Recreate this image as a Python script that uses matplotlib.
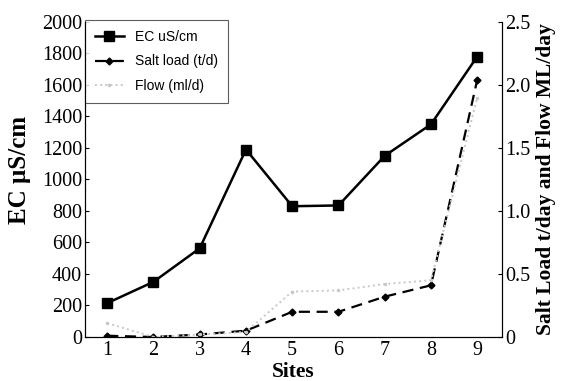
import matplotlib
matplotlib.use("Agg")
import matplotlib.pyplot as plt
import numpy as np

sites = [1, 2, 3, 4, 5, 6, 7, 8, 9]
ec = [215, 350, 563, 1190, 830, 835, 1150, 1350, 1780]
salt_load = [0.01, 0.0, 0.02, 0.05, 0.20, 0.20, 0.32, 0.41, 2.04]
flow = [0.11, 0.0, 0.02, 0.04, 0.36, 0.37, 0.42, 0.45, 1.90]
left_ticks = [0, 200, 400, 600, 800, 1000, 1200, 1400, 1600, 1800, 2000]
right_ticks = [0, 0.5, 1.0, 1.5, 2.0, 2.5]
right_labels = ["0", "0.5", "1.0", "1.5", "2.0", "2.5"]

serif = ["Liberation Serif", "DejaVu Serif"]
sans = ["Liberation Sans", "DejaVu Sans"]

fig = plt.figure(figsize=(5.63, 3.81), dpi=100)
ax = fig.add_axes([0.151, 0.1155, 0.741, 0.827])
ax2 = ax.twinx()

l1, = ax.plot(sites, ec, color="black", lw=1.8, marker="s", ms=6.5, label="EC uS/cm")
l2, = ax2.plot(sites, salt_load, color="black", lw=1.6, ls=(0, (5, 3)), marker="D", ms=3.5, label="Salt load (t/d)")
l3, = ax2.plot(sites, flow, color="#c8c8c8", lw=1.4, ls=":", marker=".", ms=3, label="Flow (ml/d)")

ax.set_xlim(0.52, 9.54)
ax.set_ylim(0, 2000)
ax2.set_ylim(0, 2.5)
ax.set_xticks(sites)
ax.set_yticks(left_ticks)
ax2.set_yticks(right_ticks)
ax2.set_yticklabels(right_labels)

for a in (ax, ax2):
    for lab in a.get_xticklabels() + a.get_yticklabels():
        lab.set_family(serif)
        lab.set_fontsize(14.5)
    a.tick_params(axis="y", direction="in", length=3, width=0.8, pad=2)
ax.tick_params(axis="x", length=0, pad=3)
ax.spines["top"].set_visible(False)
ax2.spines["top"].set_visible(False)

ax.set_xlabel("Sites", family=serif, fontsize=15.5, fontweight="bold", labelpad=1)
ax.set_ylabel("EC \u03bcS/cm", family=serif, fontsize=18, fontweight="bold")
ax.yaxis.set_label_coords(-0.13, 0.53)
ax2.set_ylabel("Salt Load t/day and Flow ML/day", family=serif, fontsize=15.5, fontweight="bold", labelpad=4)

leg = ax.legend(handles=[l1, l2, l3], loc="upper left", bbox_to_anchor=(0.0, 1.005),
                prop={"family": sans, "size": 10}, frameon=True, fancybox=False,
                borderpad=0.7, labelspacing=0.75, handlelength=2.1, borderaxespad=0)
leg.get_frame().set_edgecolor("#333333")
leg.get_frame().set_linewidth(0.8)

fig.savefig("out.png", dpi=100)
